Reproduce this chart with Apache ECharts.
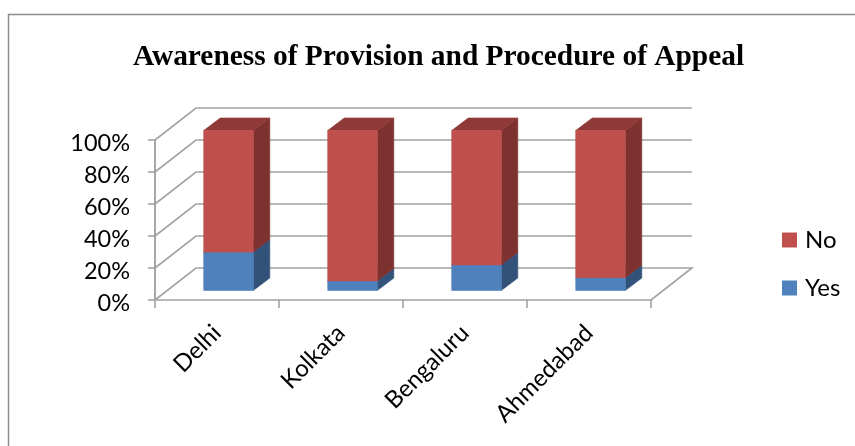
<!DOCTYPE html>
<html>
<head>
<meta charset="utf-8">
<style>html,body{margin:0;padding:0;background:#fff}#chart{width:855px;height:446px}</style>
<script src="https://cdn.jsdelivr.net/npm/echarts@6/dist/echarts.min.js"></script>
</head>
<body>
<div id="chart"></div>
<script>
const categories = ['Delhi', 'Kolkata', 'Bengaluru', 'Ahmedabad'];
const yesValues = [24, 6, 16, 8];
const noValues = [76, 94, 84, 92];
const percentTicks = [0, 20, 40, 60, 80, 100];

// Pseudo-3D projection, in pixels
const WALL_DX = 41, WALL_DY = -32;
const BAR_SHIFT_X = 11.5, BAR_SHIFT_Y = -9.5;
const BAR_DX = 16.5, BAR_DY = -12.5;
const BAR_RATIO = 0.4;
const LINE = '#a3a3a3';
const LABEL_FONT = 'Lato';

function poly(points, fill) {
  return { type: 'polygon', shape: { points }, style: { fill, stroke: fill, lineWidth: 0.6 } };
}

function prism(front, side, top) {
  return function (params, api) {
    const start = api.coord([api.value(0), api.value(1)]);
    const end = api.coord([api.value(0), api.value(2)]);
    const w = api.size([1, 0])[0] * BAR_RATIO;
    const x0 = start[0] + BAR_SHIFT_X - w / 2, x1 = x0 + w;
    const y0 = start[1] + BAR_SHIFT_Y, y1 = end[1] + BAR_SHIFT_Y;
    return {
      type: 'group',
      children: [
        poly([[x1, y0], [x1 + BAR_DX, y0 + BAR_DY], [x1 + BAR_DX, y1 + BAR_DY], [x1, y1]], side),
        poly([[x0, y1], [x1, y1], [x1 + BAR_DX, y1 + BAR_DY], [x0 + BAR_DX, y1 + BAR_DY]], top),
        poly([[x0, y0], [x1, y0], [x1, y1], [x0, y1]], front)
      ]
    };
  };
}

// Back wall gridlines, the floor edge and the front-left upright
function wallLine(params, api) {
  const v = api.value(0);
  const p = api.coord([0, v]);
  const g = params.coordSys;
  const left = g.x, right = g.x + g.width;
  const pts = [[left, p[1]], [left + WALL_DX, p[1] + WALL_DY], [right + WALL_DX, p[1] + WALL_DY]];
  if (v === 0) pts.push([right, p[1]]);
  if (v === 100) pts.unshift([left, api.coord([0, 0])[1]]);
  return {
    type: 'polyline',
    shape: { points: pts },
    style: { fill: 'none', stroke: LINE, lineWidth: 1.6 }
  };
}

function stacked(values, base) {
  return values.map((v, i) => [categories[i], base ? base[i] : 0, (base ? base[i] : 0) + v]);
}

const chart = echarts.init(document.getElementById('chart'), null, { renderer: 'canvas' });
chart.setOption({
  animation: false,
  backgroundColor: '#fff',
  title: {
    text: 'Awareness of Provision and Procedure of Appeal',
    left: 433.5, top: 38, textAlign: 'center',
    textStyle: { fontFamily: 'Liberation Serif', fontWeight: 'bold', fontSize: 29.4, color: '#000' }
  },
  legend: {
    data: ['No', 'Yes'],
    orient: 'vertical', left: 777, top: 223,
    itemWidth: 15, itemHeight: 15, itemGap: 24, icon: 'rect',
    textStyle: { fontFamily: LABEL_FONT, fontSize: 24, color: '#000', padding: [0, 0, 0, 3] }
  },
  grid: { left: 155, right: 204, top: 140, bottom: 146 },
  xAxis: {
    type: 'category', data: categories,
    axisLine: { show: true, lineStyle: { color: LINE, width: 1.6 } },
    axisTick: { show: true, length: 8, alignWithLabel: false, lineStyle: { color: LINE, width: 1.6 } },
    axisLabel: { rotate: 45, margin: 29, fontFamily: LABEL_FONT, fontSize: 24, color: '#000' }
  },
  yAxis: {
    type: 'value', min: 0, max: 100, interval: 20,
    axisLine: { show: true, lineStyle: { color: LINE, width: 1.6 } },
    axisTick: { show: true, length: 7, lineStyle: { color: LINE, width: 1.6 } },
    splitLine: { show: false },
    axisLabel: { formatter: '{value}%', margin: 25, verticalAlign: 'top', lineHeight: 6, fontFamily: LABEL_FONT, fontSize: 23.5, color: '#000' }
  },
  graphic: [{
    type: 'polyline', silent: true,
    shape: { points: [[8.5, 446], [8.5, 14.5], [855, 14.5]] },
    style: { fill: 'none', stroke: '#8c8c8c', lineWidth: 1.5 }
  }],
  series: [
    { name: 'Wall', type: 'custom', z: 1, data: percentTicks.map(v => [v]), encode: { y: 0 }, renderItem: wallLine, silent: true },
    { name: 'Yes', type: 'custom', z: 2, itemStyle: { color: '#4F81BD' }, encode: { x: 0, y: [1, 2] },
      data: stacked(yesValues), renderItem: prism('#4F81BD', '#335279', '#3F6797') },
    { name: 'No', type: 'custom', z: 3, itemStyle: { color: '#C0504D' }, encode: { x: 0, y: [1, 2] },
      data: stacked(noValues, yesValues), renderItem: prism('#C0504D', '#7D3230', '#8F3A38') }
  ]
});
</script>
</body>
</html>
